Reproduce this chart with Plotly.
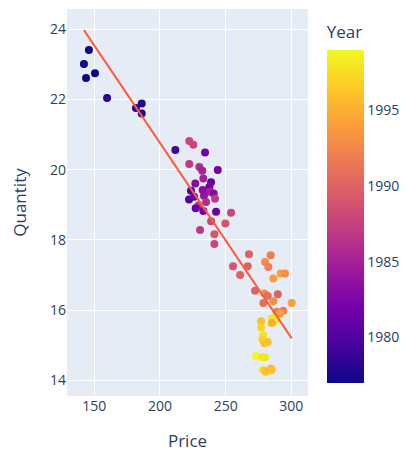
import numpy as np
import plotly.graph_objects as go

price = [145.9, 142.1, 143.7, 150.5, 159.7, 181.7, 186.1, 186.1, 211.7,
         222.3, 225.4, 234.3, 222.3, 230.0, 232.2, 244.0, 233.0, 226.9, 238.9,
         237.6, 223.6, 232.5, 238.1, 240.9, 233.5, 222.1, 225.9, 241.9, 235.1,
         229.5, 227.2, 233.0, 242.7, 254.1, 238.9, 249.8, 230.5, 241.4, 241.4,
         267.8, 266.8, 255.6, 261.0,
         284.3, 280.0, 282.5, 291.9, 295.2, 286.3, 272.4, 279.5, 282.1, 289.7,
         278.7, 286.3, 300.3, 288.9, 293.9, 291.4, 285.1, 287.6, 285.1, 277.0,
         277.0, 278.7, 277.9, 282.0, 279.5, 273.1, 277.9, 280.0, 278.7, 280.5,
         284.5, 285.1]
quantity = [23.41, 23.01, 22.61, 22.75, 22.04, 21.76, 21.89, 21.60, 20.56,
            20.82, 20.71, 20.49, 20.16, 20.08, 19.97, 19.99, 19.75, 19.61, 19.64,
            19.51, 19.40, 19.42, 19.37, 19.32, 19.26, 19.15, 19.23, 19.17, 19.08,
            18.99, 18.90, 18.82, 18.80, 18.77, 18.53, 18.47, 18.28, 18.16, 17.88,
            17.59, 17.25, 17.25, 17.00,
            17.56, 17.37, 17.23, 17.04, 17.04, 16.90, 16.55, 16.47, 16.40, 16.45,
            16.20, 16.25, 16.20, 15.95, 15.98, 15.90, 15.76, 15.69, 15.63, 15.68,
            15.50, 15.28, 15.16, 15.09, 15.05, 14.68, 14.66, 14.65, 14.29, 14.24,
            14.33, 14.29]
year = [1977, 1977, 1977, 1977, 1978, 1978, 1978, 1978, 1979,
        1988, 1988, 1982, 1987, 1986, 1985, 1982, 1985, 1983, 1981,
        1982, 1980, 1983, 1985, 1983, 1984, 1980, 1981, 1987, 1986,
        1987, 1981, 1982, 1981, 1988, 1988, 1989, 1987, 1989, 1988,
        1990, 1990, 1989, 1990,
        1992, 1993, 1992, 1994, 1993, 1994, 1990, 1993, 1991, 1990,
        1991, 1993, 1994, 1992, 1992, 1994, 1998, 1998, 1995, 1996,
        1997, 1998, 1997, 1996, 1996, 1999, 1998, 1998, 1997, 1996,
        1995, 1996]

x = np.array(price)
y = np.array(quantity)
slope, intercept = np.polyfit(x, y, 1)
xl = np.array([x.min(), x.max()])
yl = slope * xl + intercept

fig = go.Figure()
fig.add_trace(go.Scatter(
    x=price, y=quantity, mode="markers",
    marker=dict(size=8, color=year, colorscale="Plasma",
                cmin=min(year), cmax=max(year),
                colorbar=dict(title=dict(text="Year"), thickness=37,
                              outlinewidth=0, xpad=14, ypad=13)),
    showlegend=False))
fig.add_trace(go.Scatter(x=xl, y=yl, mode="lines",
                         line=dict(color="#FF5C3A", width=2), showlegend=False))
fig.update_layout(
    template="plotly", width=408, height=451,
    font=dict(size=14),
    margin=dict(l=59, r=108, t=1, b=63),
    xaxis=dict(title=dict(text="Price", standoff=21), range=[129.2, 312.7]),
    yaxis=dict(title=dict(text="Quantity", standoff=28), range=[13.55, 24.58]),
)
fig.write_html("out.html")
